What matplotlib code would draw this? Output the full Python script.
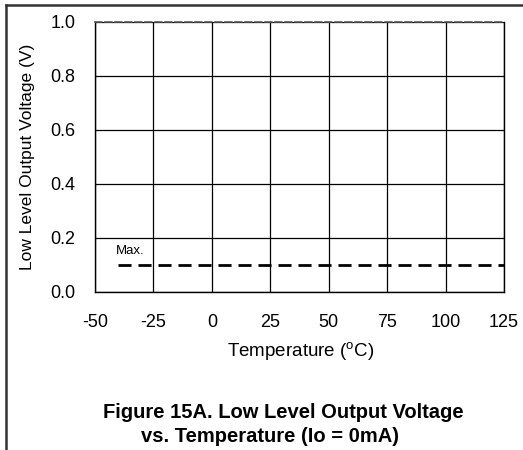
import matplotlib
matplotlib.use("Agg")
import matplotlib.pyplot as plt
from matplotlib.lines import Line2D

plt.rcParams['font.family'] = ['Liberation Sans', 'DejaVu Sans']

temps = [-40, 125]
vmax = [0.1, 0.1]
xticks = [-50, -25, 0, 25, 50, 75, 100, 125]
yticks = [0.0, 0.2, 0.4, 0.6, 0.8, 1.0]

W, H = 523, 450
fig = plt.figure(figsize=(W/100, H/100), dpi=100)
ax = fig.add_axes([95/W, 1-292/H, (504-95)/W, (292-22)/H])

ax.plot(temps, vmax, color='black', lw=2.0, dashes=(4.7, 2.5))
ax.text(-41, 0.13, 'Max.', fontsize=9.5, ha='left', va='bottom')

ax.set_xlim(-50, 125)
ax.set_ylim(0, 1.0)
ax.set_xticks(xticks)
ax.set_yticks(yticks)
ax.set_xticklabels([str(t) for t in xticks])
ax.set_yticklabels([f'{v:.1f}' for v in yticks])
ax.tick_params(length=0, labelsize=13)
ax.tick_params(axis='x', pad=16)
ax.tick_params(axis='y', pad=14)
ax.grid(True, color='black', lw=0.9)
for s in ['left', 'bottom', 'right']:
    ax.spines[s].set_color('black')
    ax.spines[s].set_linewidth(1.0)
ax.spines['top'].set_color('#555555')
ax.spines['top'].set_linestyle((0, (4, 2)))
ax.spines['top'].set_linewidth(1.2)

ax.set_ylabel('Low Level Output Voltage (V)', fontsize=12.5, labelpad=11)
fig.text(301/W, 1-352/H, 'Temperature ($^{\\mathregular{o}}$C)', fontsize=13.5,
         ha='center', va='center')
fig.text(283/W, 1-412/H, 'Figure 15A. Low Level Output Voltage', fontsize=14.5,
         fontweight='bold', ha='center', va='center')
fig.text(270/W, 1-437/H, 'vs. Temperature (Io = 0mA)', fontsize=14.5,
         fontweight='bold', ha='center', va='center')

# outer frame (left and top)
fig.add_artist(Line2D([5.5/W, 5.5/W], [0, 1-4.5/H], transform=fig.transFigure,
                      color='#333333', lw=1.8))
fig.add_artist(Line2D([5.5/W, 1], [1-4.5/H, 1-4.5/H], transform=fig.transFigure,
                      color='#333333', lw=1.8))

fig.savefig('out.png', dpi=100)
